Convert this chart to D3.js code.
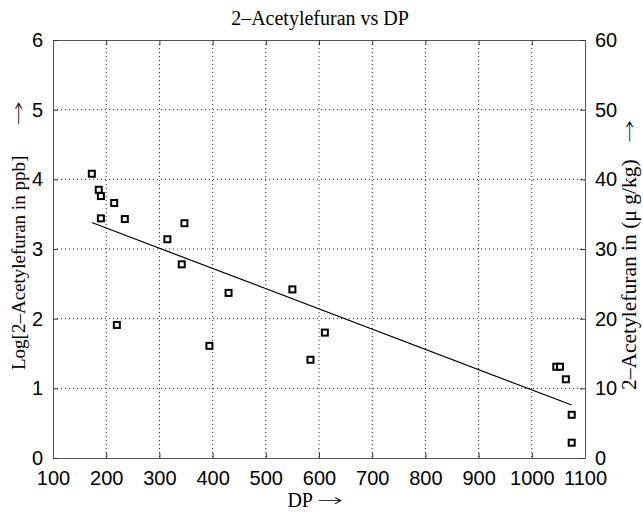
<!DOCTYPE html>
<html>
<head>
<meta charset="utf-8">
<script src="https://cdn.jsdelivr.net/npm/d3@7"></script>
<style>
  body { margin: 0; background: #fff; }
  .tick text { font-family: "Liberation Sans", Arial, sans-serif; font-size: 20px; fill: #000; }
  .lbl { font-family: "Liberation Serif", "Times New Roman", serif; font-size: 20px; fill: #000; }
  .fl { font-family: "DejaVu Sans", sans-serif; font-weight: 200; font-size: 17px; fill: #000; }
</style>
</head>
<body>
<svg width="643" height="520"></svg>
<script>
// valeurs
const dp = [173, 186, 190, 215, 190, 235, 220, 315, 342, 347,
            394, 430, 550, 584, 611, 1046, 1053, 1064, 1075, 1075];
const logVal = [4.08, 3.85, 3.76, 3.66, 3.44, 3.43, 1.91, 3.14, 2.78, 3.37,
                1.61, 2.37, 2.42, 1.41, 1.80, 1.31, 1.31, 1.13, 0.62, 0.22];
// droite de tendance (extrémités)
const fitDp = [173, 1075];
const fitVal = [3.38, 0.76];
const xTicks = [100, 200, 300, 400, 500, 600, 700, 800, 900, 1000, 1100];
const yTicks = [0, 1, 2, 3, 4, 5, 6];
const y2Ticks = [0, 10, 20, 30, 40, 50, 60];

const svg = d3.select('svg');
const gauche = 53, droite = 585, haut = 40, bas = 458;

const x = d3.scaleLinear().domain([100, 1100]).range([gauche, droite]);
const y = d3.scaleLinear().domain([0, 6]).range([bas, haut]);
const y2 = d3.scaleLinear().domain([0, 60]).range([bas, haut]);
const fmt = d3.format('d');

// grille pointillée
const grid = svg.append('g');
grid.selectAll('line.v').data(xTicks.slice(1, -1)).join('line').attr('class', 'v')
    .attr('x1', d => x(d)).attr('x2', d => x(d))
    .attr('y1', haut).attr('y2', bas);
grid.selectAll('line.h').data(yTicks.slice(1, -1)).join('line').attr('class', 'h')
    .attr('x1', gauche).attr('x2', droite)
    .attr('y1', d => y(d)).attr('y2', d => y(d));
grid.selectAll('line')
    .attr('stroke', '#222').attr('stroke-width', 1)
    .attr('stroke-dasharray', '1,3');

// axes
const styleAxis = g => {
    g.select('.domain').attr('stroke', '#555');
    g.selectAll('.tick line').attr('stroke', '#333');
};
svg.append('g').attr('transform', `translate(0,${bas})`)
    .call(d3.axisBottom(x).tickValues(xTicks).tickFormat(fmt).tickSizeInner(-5).tickSizeOuter(0).tickPadding(13))
    .call(styleAxis)
    .selectAll('text').attr('dy', '0.71em');
svg.append('g').attr('transform', `translate(0,${haut})`)
    .call(d3.axisTop(x).tickValues(xTicks).tickSizeInner(-5).tickSizeOuter(0).tickFormat(''))
    .call(styleAxis);
svg.append('g').attr('transform', `translate(${gauche},0)`)
    .call(d3.axisLeft(y).tickValues(yTicks).tickFormat(fmt).tickSizeInner(-5).tickSizeOuter(0).tickPadding(10))
    .call(styleAxis);
svg.append('g').attr('transform', `translate(${droite},0)`)
    .call(d3.axisRight(y2).tickValues(y2Ticks).tickFormat(fmt).tickSizeInner(-5).tickSizeOuter(0).tickPadding(10))
    .call(styleAxis);
svg.selectAll('g[font-family]').attr('font-family', null).attr('font-size', null);

// droite de régression
svg.append('line')
    .attr('x1', x(fitDp[0])).attr('y1', y(fitVal[0]))
    .attr('x2', x(fitDp[1])).attr('y2', y(fitVal[1]))
    .attr('stroke', '#000').attr('stroke-width', 1.2);

// points carrés
svg.append('g').selectAll('rect').data(dp).join('rect')
    .attr('x', d => x(d) - 3)
    .attr('y', (d, i) => y(logVal[i]) - 3)
    .attr('width', 6).attr('height', 6)
    .attr('fill', '#fff').attr('stroke', '#000').attr('stroke-width', 2);

// titres
svg.append('text').attr('class', 'lbl')
    .attr('x', 320).attr('y', 25).attr('text-anchor', 'middle')
    .text('2–Acetylefuran vs DP');
svg.append('text').attr('class', 'lbl')
    .attr('x', 313).attr('y', 507).attr('text-anchor', 'end')
    .text('DP');
const fleche = (transform, len) => svg.append('text').attr('class', 'fl')
    .attr('transform', transform)
    .attr('textLength', len).attr('lengthAdjust', 'spacingAndGlyphs')
    .text('→');
fleche('translate(317,506)', 26);
svg.append('text').attr('class', 'lbl')
    .attr('transform', 'translate(25,370) rotate(-90)')
    .style('font-size', '19px')
    .text('Log[2–Acetylefuran in ppb]');
fleche('translate(24,126) rotate(-90)', 25);
svg.append('text').attr('class', 'lbl')
    .attr('transform', 'translate(636,390) rotate(-90)')
    .style('font-size', '21.5px')
    .text('2–Acetylefuran in (μ g/kg)');
fleche('translate(635,143) rotate(-90)', 23);
</script>
</body>
</html>
